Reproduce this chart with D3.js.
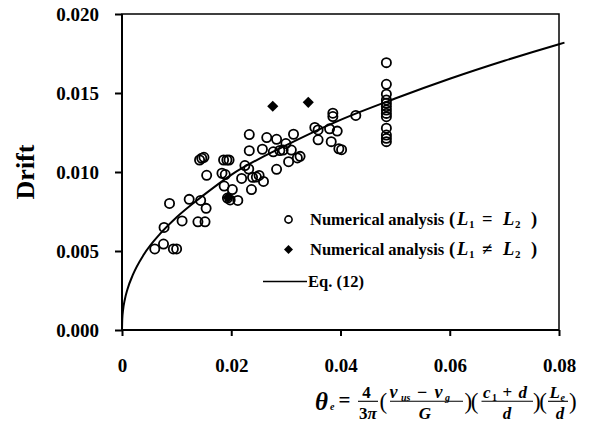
<!DOCTYPE html>
<html>
<head>
<meta charset="utf-8">
<script src="https://cdn.jsdelivr.net/npm/d3@7"></script>
<style>
  body { margin: 0; background: #fff; }
  svg { display: block; }
  text { font-family: "Liberation Serif", "Times New Roman", serif; fill: #000; }
</style>
</head>
<body>
<div id="chart"></div>
<script>
// Numerical analysis (L1 = L2) - open circles
var numTheta = [0.0060, 0.0076, 0.0094, 0.0100, 0.0077, 0.0110, 0.0139, 0.0152, 0.0087, 0.0123,
    0.0144, 0.0154, 0.0155, 0.0183, 0.0189, 0.0142, 0.0146, 0.0150, 0.0186, 0.0192,
    0.0196, 0.0187, 0.0202, 0.0193, 0.0198, 0.0212, 0.0219, 0.0225, 0.0232, 0.0239,
    0.0246, 0.0251, 0.0259, 0.0237, 0.0233, 0.0233, 0.0257, 0.0265, 0.0283, 0.0277,
    0.0289, 0.0295, 0.0300, 0.0310, 0.0305, 0.0283, 0.0314, 0.0321, 0.0326, 0.0353,
    0.0359, 0.0380, 0.0394, 0.0386, 0.0386, 0.0428, 0.0359, 0.0383, 0.0397, 0.0402,
    0.0484, 0.0484, 0.0484, 0.0484, 0.0484, 0.0484, 0.0484, 0.0484, 0.0484, 0.0484,
    0.0484, 0.0484, 0.0484];
var numDrift = [0.00513, 0.00544, 0.00513, 0.00513, 0.00649, 0.00690, 0.00685, 0.00685, 0.00801, 0.00827,
    0.00820, 0.00770, 0.00979, 0.00992, 0.00984, 0.01076, 0.01087, 0.01093, 0.01076, 0.01076,
    0.01076, 0.00911, 0.00889, 0.00835, 0.00823, 0.00820, 0.00959, 0.01041, 0.01019, 0.00966,
    0.00968, 0.00978, 0.00940, 0.00889, 0.01237, 0.01135, 0.01144, 0.01218, 0.01207, 0.01128,
    0.01136, 0.01139, 0.01180, 0.01139, 0.01065, 0.01017, 0.01239, 0.01089, 0.01099, 0.01282,
    0.01266, 0.01273, 0.01259, 0.01372, 0.01351, 0.01358, 0.01204, 0.01192, 0.01147, 0.01141,
    0.01692, 0.01555, 0.01492, 0.01456, 0.01435, 0.01414, 0.01392, 0.01371, 0.01350, 0.01277,
    0.01234, 0.01213, 0.01192];

// Numerical analysis (L1 != L2) - filled diamonds
var uneqTheta = [0.0276, 0.0341, 0.0194];
var uneqDrift = [0.01416, 0.01441, 0.00839];

// Eq. (12) curve
var eqTheta = [0, 0.00005, 0.0002, 0.0005, 0.001, 0.002, 0.004, 0.007, 0.01, 0.015,
    0.02, 0.03, 0.04, 0.05, 0.06, 0.07, 0.08, 0.081];
var eqDrift = [0, 0.00070, 0.00128, 0.00190, 0.00258, 0.00350, 0.00478, 0.00610, 0.00714, 0.00855,
    0.00982, 0.01168, 0.01330, 0.01465, 0.01590, 0.01704, 0.01809, 0.01819];

var xTicks = [0, 0.02, 0.04, 0.06, 0.08];
var xTickLabels = ["0", "0.02", "0.04", "0.06", "0.08"];
var yTicks = [0, 0.005, 0.010, 0.015, 0.020];
var yTickLabels = ["0.000", "0.005", "0.010", "0.015", "0.020"];

var W = 597, H = 434;
var margin = { top: 14, right: 38, bottom: 104, left: 122 };
var width = W - margin.left - margin.right;
var height = H - margin.top - margin.bottom;

var svg = d3.select("#chart").append("svg")
    .attr("width", W)
    .attr("height", H);

var g = svg.append("g")
    .attr("transform", "translate(" + margin.left + "," + margin.top + ")");

var x = d3.scaleLinear().domain([0, 0.08]).range([0, width]);
var y = d3.scaleLinear().domain([0, 0.020]).range([height, 0]);

// frame (top + right)
g.append("rect")
    .attr("x", 0).attr("y", 0)
    .attr("width", width).attr("height", height)
    .attr("fill", "none")
    .attr("stroke", "#000")
    .attr("stroke-width", 1.5);

// axes
var xAxis = d3.axisBottom(x).tickValues(xTicks).tickSize(6)
    .tickFormat(function(d, i) { return xTickLabels[i]; });
var yAxis = d3.axisLeft(y).tickValues(yTicks).tickSize(7)
    .tickFormat(function(d, i) { return yTickLabels[i]; });

var gx = g.append("g")
    .attr("transform", "translate(0," + height + ")")
    .call(xAxis);
var gy = g.append("g").call(yAxis);

[gx, gy].forEach(function(ax) {
    ax.select(".domain").attr("stroke", "#000").attr("stroke-width", 2);
    ax.selectAll(".tick line").attr("stroke", "#000").attr("stroke-width", 2);
    ax.selectAll(".tick text")
        .attr("font-family", "Liberation Serif")
        .attr("font-weight", "bold")
        .attr("font-size", 19)
        .attr("fill", "#000");
});
gx.select(".domain").attr("d", "M0,0H" + width);
gy.select(".domain").attr("d", "M0," + height + "V0");
gx.selectAll(".tick text").attr("y", 42).attr("dy", null);
gy.selectAll(".tick text").attr("x", -23).attr("dy", "0.35em");

// y label
svg.append("text")
    .attr("transform", "translate(34," + 172 + ") rotate(-90)")
    .attr("text-anchor", "middle")
    .attr("font-weight", "bold")
    .attr("font-size", 26)
    .text("Drift");

// Eq. (12) line
var line = d3.line()
    .x(function(d) { return x(d[0]); })
    .y(function(d) { return y(d[1]); })
    .curve(d3.curveMonotoneX);

g.append("path")
    .datum(d3.zip(eqTheta, eqDrift))
    .attr("d", line)
    .attr("fill", "none")
    .attr("stroke", "#000")
    .attr("stroke-width", 2);

// circles
g.selectAll(".num")
    .data(d3.zip(numTheta, numDrift))
    .enter().append("circle")
    .attr("class", "num")
    .attr("cx", function(d) { return x(d[0]); })
    .attr("cy", function(d) { return y(d[1]); })
    .attr("r", 4.6)
    .attr("fill", "none")
    .attr("stroke", "#000")
    .attr("stroke-width", 1.8);

// diamonds
var diamond = d3.symbol().type(d3.symbolSquare).size(62);
g.selectAll(".uneq")
    .data(d3.zip(uneqTheta, uneqDrift))
    .enter().append("path")
    .attr("class", "uneq")
    .attr("d", diamond)
    .attr("transform", function(d) {
        return "translate(" + x(d[0]) + "," + y(d[1]) + ") rotate(45)";
    })
    .attr("fill", "#000");

// legend
var leg = svg.append("g");
leg.append("circle")
    .attr("cx", 288.5).attr("cy", 219.5).attr("r", 3.6)
    .attr("fill", "none").attr("stroke", "#000").attr("stroke-width", 1.6);
leg.append("path")
    .attr("d", d3.symbol().type(d3.symbolSquare).size(40))
    .attr("transform", "translate(288.5,249.5) rotate(45)")
    .attr("fill", "#000");
leg.append("line")
    .attr("x1", 263).attr("x2", 307).attr("y1", 281.5).attr("y2", 281.5)
    .attr("stroke", "#000").attr("stroke-width", 1.5);

var legRows = [
    { y: 224.5, label: "Numerical analysis", rel: "=" },
    { y: 255, label: "Numerical analysis", rel: "\u2260" }
];
legRows.forEach(function(r) {
    leg.append("text")
        .attr("x", 310).attr("y", r.y)
        .attr("font-weight", "bold").attr("font-size", 16.5)
        .text(r.label);
    var t = leg.append("text")
        .attr("y", r.y)
        .attr("font-size", 18.5)
        .attr("font-weight", "bold");
    t.append("tspan").attr("x", 449).text("(");
    t.append("tspan").attr("x", 457).attr("font-style", "italic").text("L");
    t.append("tspan").attr("x", 469).attr("font-size", 11).attr("dy", 3).text("1");
    t.append("tspan").attr("x", 482).attr("dy", -3).text(r.rel);
    t.append("tspan").attr("x", 503).attr("font-style", "italic").text("L");
    t.append("tspan").attr("x", 515).attr("font-size", 11).attr("dy", 3).text("2");
    t.append("tspan").attr("x", 531).attr("dy", -3).text(")");
});
leg.append("text")
    .attr("x", 308).attr("y", 287)
    .attr("font-weight", "bold").attr("font-size", 16.5)
    .text("Eq. (12)");

// x axis title: theta_e = 4/(3pi) ((v_us - v_g)/G)((c1 + d)/d)(Le/d)
var f = svg.append("g").attr("font-weight", "bold");
var barY = 401.3, numY = 397.5, denY = 418.5;

function txt(xp, yp, s, size, italic, anchor) {
    return f.append("text")
        .attr("x", xp).attr("y", yp)
        .attr("font-size", size)
        .attr("font-style", italic ? "italic" : "normal")
        .attr("text-anchor", anchor || "start")
        .text(s);
}
function bar(x1, x2) {
    f.append("line").attr("x1", x1).attr("x2", x2).attr("y1", barY).attr("y2", barY)
        .attr("stroke", "#000").attr("stroke-width", 1.1);
}
function paren(xp, s) {
    f.append("text")
        .attr("x", xp).attr("y", 408.5)
        .attr("font-size", 23)
        .attr("font-weight", "normal")
        .attr("letter-spacing", -1.5)
        .text(s);
}

f.append("text").attr("y", 410).attr("font-size", 23)
    .call(function(t) {
        t.append("tspan").attr("x", 315).attr("font-style", "italic").attr("font-size", 25).text("\u03b8");
        t.append("tspan").attr("x", 330).attr("font-style", "italic").attr("font-size", 10).text("e");
        t.append("tspan").attr("x", 338.5).attr("y", 407).attr("font-size", 21).text("=");
    });

txt(366.5, numY, "4", 17, false, "middle");
bar(358, 378);
f.append("text").attr("x", 368).attr("y", denY).attr("font-size", 17).attr("text-anchor", "middle")
    .call(function(t) {
        t.append("tspan").text("3");
        t.append("tspan").attr("font-style", "italic").text("\u03c0");
    });

paren(379.5, "(");
f.append("text").attr("y", numY).attr("font-size", 18)
    .call(function(t) {
        t.append("tspan").attr("x", 389.5).attr("font-style", "italic").text("\u03bd");
        t.append("tspan").attr("x", 401).attr("font-style", "italic").attr("font-size", 10).attr("dy", 3).text("us");
        t.append("tspan").attr("x", 417).attr("dy", -3).text("\u2212");
        t.append("tspan").attr("x", 434.5).attr("font-style", "italic").text("\u03bd");
        t.append("tspan").attr("x", 445).attr("font-style", "italic").attr("font-size", 10).attr("dy", 3).text("g");
    });
bar(390, 463);
txt(425, denY, "G", 17, true, "middle");
paren(464.5, ")(");

f.append("text").attr("y", numY).attr("font-size", 17)
    .call(function(t) {
        t.append("tspan").attr("x", 483).attr("font-style", "italic").text("c");
        t.append("tspan").attr("x", 492).attr("font-size", 10).attr("dy", 3).text("1");
        t.append("tspan").attr("x", 502.5).attr("dy", -3).text("+");
        t.append("tspan").attr("x", 518.5).attr("font-style", "italic").text("d");
    });
bar(481.5, 533);
txt(507, denY, "d", 17, true, "middle");
paren(533, ")(");

f.append("text").attr("y", numY).attr("font-size", 17)
    .call(function(t) {
        t.append("tspan").attr("x", 549.5).attr("font-style", "italic").text("L");
        t.append("tspan").attr("x", 560.5).attr("font-style", "italic").attr("font-size", 10).attr("dy", 3).text("e");
    });
bar(548, 568);
txt(560, denY, "d", 17, true, "middle");
paren(569, ")");
</script>
</body>
</html>
